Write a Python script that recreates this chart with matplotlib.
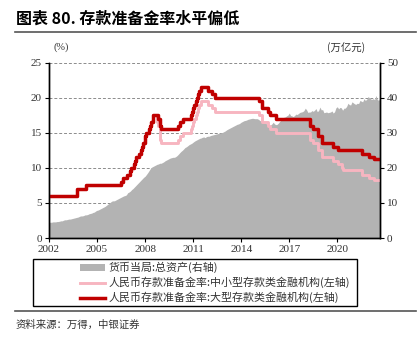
import numpy as np
import pandas as pd
import matplotlib
matplotlib.use("Agg")
import matplotlib.pyplot as plt
from matplotlib.patches import Rectangle
from matplotlib.lines import Line2D

plt.rcParams['font.family'] = ['Noto Sans CJK SC', 'DejaVu Sans']

# 货币当局总资产 (万亿元), monthly, 2002-01 .. 2022-09
assets = [
    4.5, 4.5, 4.5, 4.6, 4.6, 4.6, 4.7, 4.7, 4.8, 4.9, 4.9, 5.1,
    5.2, 5.2, 5.3, 5.4, 5.4, 5.5, 5.6, 5.7, 5.8, 5.9, 6.0, 6.2,
    6.3, 6.3, 6.4, 6.6, 6.6, 6.7, 6.9, 7.0, 7.1, 7.3, 7.4, 7.7,
    7.9, 8.0, 8.2, 8.4, 8.6, 8.8, 9.0, 9.3, 9.6, 9.9, 10.2, 10.5,
    10.6, 10.6, 10.8, 11.0, 11.2, 11.4, 11.6, 11.8, 12.0, 12.1, 12.3, 12.9,
    13.1, 13.4, 13.8, 14.1, 14.5, 14.9, 15.3, 15.7, 16.1, 16.5, 16.9, 17.3,
    17.6, 18.1, 18.6, 19.2, 19.8, 20.2, 20.4, 20.6, 20.8, 21.0, 21.1, 21.3,
    21.3, 21.5, 21.7, 22.0, 22.2, 22.4, 22.6, 22.8, 22.9, 23.0, 23.0, 23.2,
    23.5, 23.9, 24.3, 24.7, 25.0, 25.4, 25.8, 26.0, 26.3, 26.6, 26.8, 27.0,
    27.3, 27.6, 27.8, 28.0, 28.2, 28.4, 28.5, 28.7, 28.8, 28.6, 28.9, 29.0,
    29.0, 29.2, 29.3, 29.4, 29.5, 29.6, 29.7, 29.8, 29.9, 30.0, 30.1, 30.3,
    30.5, 30.8, 31.0, 31.2, 31.4, 31.6, 31.8, 32.0, 32.2, 32.4, 32.5, 32.7,
    33.0, 33.2, 33.4, 33.5, 33.6, 33.8, 33.9, 34.0, 34.1, 34.1, 34.0, 34.0,
    34.0, 33.8, 33.5, 33.3, 33.0, 32.8, 32.8, 32.5, 32.0, 31.8, 32.2, 32.5,
    33.0, 32.5, 32.3, 32.4, 32.8, 33.3, 33.6, 33.9, 34.4, 34.5, 34.8, 35.0,
    35.6, 34.9, 34.8, 34.6, 34.9, 35.3, 35.2, 35.5, 35.8, 35.9, 36.0, 36.3,
    37.0, 36.5, 35.8, 35.9, 35.9, 36.3, 36.1, 36.4, 36.9, 36.0, 36.3, 37.3,
    36.5, 36.6, 35.7, 35.8, 35.9, 35.7, 35.8, 35.9, 36.2, 35.6, 36.0, 37.1,
    37.4, 36.8, 37.2, 37.1, 36.4, 37.0, 37.0, 37.5, 38.4, 38.0, 37.9, 38.8,
    38.5, 38.2, 38.1, 38.4, 38.3, 39.2, 39.0, 38.8, 39.7, 39.2, 39.5, 40.3,
    40.0, 39.6, 39.5, 39.7, 39.4, 40.6, 39.5, 39.2, 39.9,
]
asset_dates = pd.date_range("2002-01-01", periods=len(assets), freq="MS")

# 存款准备金率调整日期及数值 (%)
rrr_dates = [
    "2002-01-01", "2003-09-21", "2004-04-25", "2006-07-05", "2006-08-15",
    "2006-11-15", "2007-01-15", "2007-02-25", "2007-04-16", "2007-05-15",
    "2007-06-05", "2007-08-15", "2007-09-25", "2007-10-25", "2007-11-26",
    "2007-12-25", "2008-01-25", "2008-03-25", "2008-04-25", "2008-05-20",
    "2008-06-25", "2008-09-25", "2008-10-15", "2008-12-05", "2008-12-25",
    "2010-01-18", "2010-02-25", "2010-05-10", "2010-11-16", "2010-11-29",
    "2010-12-20", "2011-01-20", "2011-02-24", "2011-03-25", "2011-04-21",
    "2011-05-18", "2011-06-20", "2011-12-05", "2012-02-24", "2012-05-18",
    "2015-02-05", "2015-04-20", "2015-09-06", "2015-10-24", "2016-03-01",
    "2018-04-25", "2018-07-05", "2018-10-15", "2019-01-15", "2019-01-25",
    "2019-09-16", "2020-01-06", "2020-04-15", "2020-05-15", "2021-07-15",
    "2021-12-15", "2022-04-25", "2022-09-01",
]
rrr_large = [
    6.0, 7.0, 7.5, 8.0, 8.5,
    9.0, 9.5, 10.0, 10.5, 11.0,
    11.5, 12.0, 12.5, 13.0, 13.5,
    14.5, 15.0, 15.5, 16.0, 16.5,
    17.5, 17.5, 17.0, 16.0, 15.5,
    16.0, 16.5, 17.0, 17.5, 18.0,
    18.5, 19.0, 19.5, 20.0, 20.5,
    21.0, 21.5, 21.0, 20.5, 20.0,
    19.5, 18.5, 18.0, 17.5, 17.0,
    16.0, 15.5, 14.5, 14.0, 13.5,
    13.0, 12.5, 12.5, 12.5, 12.0,
    11.5, 11.25, 11.25,
]
rrr_small = [
    6.0, 7.0, 7.5, 8.0, 8.5,
    9.0, 9.5, 10.0, 10.5, 11.0,
    11.5, 12.0, 12.5, 13.0, 13.5,
    14.5, 15.0, 15.5, 16.0, 16.5,
    17.5, 16.5, 16.0, 14.0, 13.5,
    14.0, 14.5, 15.0, 15.5, 16.0,
    16.5, 17.0, 17.5, 18.0, 18.5,
    19.0, 19.5, 19.0, 18.5, 18.0,
    17.5, 16.5, 16.0, 15.5, 15.0,
    14.0, 13.5, 12.5, 12.0, 11.5,
    11.0, 10.5, 10.0, 9.75, 9.0,
    8.5, 8.25, 8.25,
]
rrr_dates = pd.to_datetime(rrr_dates)

year_ticks = [2002, 2005, 2008, 2011, 2014, 2017, 2020]

c_area = '#b3b3b3'
c_small = '#f7b5c0'
c_large = '#c00000'
serif = 'Liberation Serif'

fig = plt.figure(figsize=(4.18, 3.43), dpi=100)
ax = fig.add_axes([0.1172, 0.306, 0.7919, 0.5117])
ax2 = ax.twinx()

# right axis: area + dashed grid underneath
ax2.yaxis.grid(True, linestyle=(0, (3, 2)), color='#8c8c8c', linewidth=0.7)
ax2.set_axisbelow(True)
area = ax2.fill_between(asset_dates, assets, 0, color=c_area, linewidth=0, zorder=2)
ax2.set_ylim(0, 50)
ax2.set_yticks(range(0, 51, 10))

# left axis on top for the lines
ax.set_zorder(ax2.get_zorder() + 1)
ax.patch.set_visible(False)
l_small, = ax.plot(rrr_dates, rrr_small, drawstyle='steps-post', color=c_small, lw=2.1)
l_large, = ax.plot(rrr_dates, rrr_large, drawstyle='steps-post', color=c_large, lw=2.5)
ax.set_ylim(0, 25)
ax.set_yticks(range(0, 26, 5))
ax.set_xlim(asset_dates[0], asset_dates[-1])
ax.set_xticks([pd.Timestamp(f"{y}-01-01") for y in year_ticks])
ax.set_xticklabels([str(y) for y in year_ticks])

for a in (ax, ax2):
    a.spines['top'].set_visible(False)
    for s in ('left', 'right', 'bottom'):
        a.spines[s].set_color('black')
        a.spines[s].set_linewidth(1.0)
    a.tick_params(length=3, width=0.8, colors='black', labelsize=8, pad=2)
    for lab in a.get_yticklabels() + a.get_xticklabels():
        lab.set_fontfamily(serif)
        lab.set_color('#333333')

fig.text(0.146, 0.862, '(%)', fontsize=7.5, family=serif, ha='center', va='center', color='#333333')
fig.text(0.828, 0.862, '(万亿元)', fontsize=7.5, ha='center', va='center', color='#333333')

# title and rules
fig.text(0.038, 0.946, '图表 80. 存款准备金率水平偏低', fontsize=11.5, fontweight='bold',
         ha='left', va='center', color='black')
fig.add_artist(Line2D([0.036, 0.995], [0.908, 0.908], color='#555555', lw=1.2))
fig.add_artist(Line2D([0.036, 0.995], [0.093, 0.093], color='#555555', lw=1.2))
fig.text(0.036, 0.054, '资料来源：万得，中银证券', fontsize=7.5, style='italic',
         ha='left', va='center', color='#333333')

# legend with its own box
fig.add_artist(Rectangle((0.079, 0.108), 0.775, 0.137, transform=fig.transFigure,
                         fill=False, edgecolor='black', lw=1.0))
fig.legend([area, l_small, l_large],
           ['货币当局:总资产(右轴)',
            '人民币存款准备金率:中小型存款类金融机构(左轴)',
            '人民币存款准备金率:大型存款类金融机构(左轴)'],
           loc='upper left', bbox_to_anchor=(0.191, 0.236), frameon=False,
           fontsize=7.9, handlelength=2.3, handletextpad=0.3, labelspacing=0.33,
           borderpad=0, borderaxespad=0, labelcolor='#333333')

fig.savefig('out.png', dpi=100)
